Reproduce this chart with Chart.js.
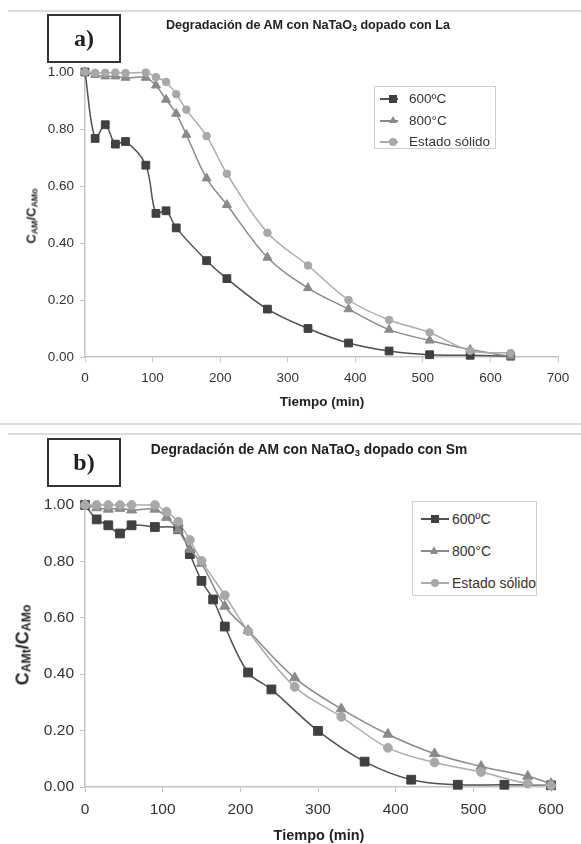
<!DOCTYPE html>
<html>
<head>
<meta charset="utf-8">
<script src="https://cdn.jsdelivr.net/npm/chart.js@4.4.1/dist/chart.umd.min.js"></script>
<style>
  body { margin: 0; width: 581px; height: 844px; position: relative; background: #fff; overflow: hidden;
         font-family: "Liberation Sans", Arial, sans-serif; color: #333; }
  .rule { position: absolute; height: 2px; background: #dcdcdc; }
  .tag { position: absolute; box-sizing: border-box; border: 2px solid #333; font-family: "Liberation Serif", serif;
         font-weight: bold; font-size: 24px; display: flex; align-items: center; justify-content: center; color: #222; }
  .title { position: absolute; transform: translateX(-50%); white-space: nowrap; font-weight: bold; color: #222; }
  .xlab { position: absolute; transform: translate(-50%, -50%); white-space: nowrap; font-weight: bold; color: #222; }
  .ylab { position: absolute; transform: translate(-50%, -50%) rotate(-90deg); white-space: nowrap; font-weight: bold; color: #222; }
  sub { font-size: 0.68em; vertical-align: -0.2em; line-height: 0; }
  .cv { position: absolute; left: 0; width: 581px; }
  .legend { position: absolute; box-sizing: border-box; border: 1px solid #cfcfcf; background: #fff; }
  .item { position: absolute; left: 0; height: 16px; white-space: nowrap; color: #333; }
  .item .ln { position: absolute; top: 7px; height: 1.5px; }
  .item .mk { position: absolute; }
  .item span.t { position: absolute; top: 0; line-height: 16px; }
</style>
</head>
<body>
<div class="rule" style="left:8px;right:0;top:10px"></div>
<div class="rule" style="left:0;right:0;top:423px"></div>
<div class="rule" style="left:8px;right:0;top:433px"></div>

<div class="cv" style="top:0;height:420px"><canvas id="chartA"></canvas></div>
<div class="cv" style="top:420px;height:424px"><canvas id="chartB"></canvas></div>

<div class="tag" style="left:47px;top:14px;width:74px;height:49px">a)</div>
<div class="tag" style="left:47px;top:438px;width:74px;height:49px">b)</div>

<div class="title" style="left:308px;top:18px;font-size:12.6px">Degradación de AM con NaTaO<sub>3</sub> dopado con La</div>
<div class="title" style="left:309px;top:442px;font-size:13.8px">Degradación de AM con NaTaO<sub>3</sub> dopado con Sm</div>

<div class="ylab" style="left:31px;top:216px;font-size:13px">C<sub>AM</sub>/C<sub>AMo</sub></div>
<div class="ylab" style="left:23px;top:645px;font-size:18px">C<sub>AMt</sub>/C<sub>AMo</sub></div>

<div class="xlab" style="left:322px;top:401px;font-size:13.5px">Tiempo (min)</div>
<div class="xlab" style="left:319px;top:835px;font-size:14.5px">Tiempo (min)</div>

<div class="legend" id="legA" style="left:374px;top:86px;width:122px;height:63px"></div>
<div class="legend" id="legB" style="left:412px;top:501px;width:125px;height:95px"></div>

<script>
// series names
const seriesNames = ['600ºC', '800°C', 'Estado sólido'];

// a) NaTaO3 dopado con La
const timeA600 = [0, 15, 30, 45, 60, 90, 105, 120, 135, 180, 210, 270, 330, 390, 450, 510, 570, 630];
const valA600 = [1.00, 0.767, 0.815, 0.747, 0.756, 0.673, 0.504, 0.513, 0.453, 0.338, 0.275, 0.168, 0.100, 0.049, 0.021, 0.008, 0.006, 0.003];
const timeA = [0, 15, 30, 45, 60, 90, 105, 120, 135, 150, 180, 210, 270, 330, 390, 450, 510, 570, 630];
const valA800 = [1.00, 0.990, 0.985, 0.985, 0.980, 0.980, 0.953, 0.903, 0.854, 0.780, 0.627, 0.534, 0.349, 0.242, 0.168, 0.096, 0.058, 0.026, 0.002];
const valASol = [1.00, 0.997, 0.997, 0.998, 0.996, 0.998, 0.982, 0.965, 0.922, 0.868, 0.775, 0.643, 0.436, 0.321, 0.200, 0.130, 0.086, 0.022, 0.014];

// b) NaTaO3 dopado con Sm
const timeB600 = [0, 15, 30, 45, 60, 90, 120, 135, 150, 165, 180, 210, 240, 300, 360, 420, 480, 540, 600];
const valB600 = [1.00, 0.949, 0.928, 0.899, 0.928, 0.922, 0.914, 0.826, 0.731, 0.665, 0.569, 0.406, 0.346, 0.199, 0.090, 0.026, 0.008, 0.008, 0.006];
const timeB = [0, 15, 30, 45, 60, 90, 105, 120, 135, 150, 180, 210, 270, 330, 390, 450, 510, 570, 600];
const valB800 = [1.00, 0.990, 0.985, 0.988, 0.982, 0.985, 0.956, 0.911, 0.843, 0.793, 0.641, 0.555, 0.387, 0.277, 0.187, 0.118, 0.073, 0.038, 0.012];
const valBSol = [1.00, 1.00, 1.00, 1.00, 1.00, 1.00, 0.976, 0.941, 0.876, 0.802, 0.680, 0.553, 0.355, 0.249, 0.139, 0.087, 0.053, 0.012, 0.005];

const yTicks = [0, 0.2, 0.4, 0.6, 0.8, 1.0];

const styles = [
  { line: '#505050', fill: '#404040', shape: 'rect' },
  { line: '#8a8a8a', fill: '#8a8a8a', shape: 'triangle' },
  { line: '#acacac', fill: '#a8a8a8', shape: 'circle' }
];

function pts(xs, ys) { return xs.map((x, i) => ({ x: x, y: ys[i] })); }

function makeChart(id, sets, xMax, box, radii, fontSize) {
  new Chart(document.getElementById(id), {
    type: 'line',
    data: {
      datasets: sets.map((d, i) => ({
        label: seriesNames[i],
        data: d,
        borderColor: styles[i].line,
        backgroundColor: styles[i].fill,
        pointBackgroundColor: styles[i].fill,
        pointBorderColor: styles[i].fill,
        pointStyle: styles[i].shape,
        pointRadius: radii[i],
        pointBorderWidth: 1,
        borderWidth: 1.5,
        tension: 0.35,
        clip: false,
        order: 2 - i
      }))
    },
    options: {
      responsive: true,
      maintainAspectRatio: false,
      animation: false,
      layout: { padding: { left: 0, top: box.top, right: box.right, bottom: 0 } },
      plugins: { legend: { display: false }, tooltip: { enabled: false } },
      scales: {
        x: {
          type: 'linear', min: 0, max: xMax,
          ticks: { stepSize: 100, color: '#333', padding: box.xpad, font: { size: fontSize, family: '"Liberation Sans", Arial' } },
          grid: { drawOnChartArea: false, drawTicks: true, tickLength: 5, color: '#c4c4c4' },
          border: { color: '#c4c4c4', width: 1.5 },
          afterFit: s => { s.height = box.xh; }
        },
        y: {
          min: 0, max: 1,
          afterBuildTicks: s => { s.ticks = yTicks.map(v => ({ value: v })); },
          ticks: { color: '#333', padding: 6, font: { size: fontSize, family: '"Liberation Sans", Arial' },
                   callback: v => v.toFixed(2) },
          grid: { drawOnChartArea: false, drawTicks: true, tickLength: 5, color: '#c4c4c4' },
          border: { color: '#c4c4c4', width: 1.5 },
          afterFit: s => { s.width = 85; }
        }
      }
    }
  });
}

makeChart('chartA', [pts(timeA600, valA600), pts(timeA, valA800), pts(timeA, valASol)], 700,
  { top: 72, right: 23, xh: 63, xpad: 8 }, [5.5, 5.2, 3.8], 13.5);
makeChart('chartB', [pts(timeB600, valB600), pts(timeB, valB800), pts(timeB, valBSol)], 600,
  { top: 85, right: 30, xh: 57, xpad: 8 }, [6.2, 5.8, 4.4], 15.5);

// HTML legends
function legend(id, rowTops, lineX, markX, textX, fs, scale) {
  const el = document.getElementById(id);
  seriesNames.forEach((name, i) => {
    const it = document.createElement('div');
    it.className = 'item';
    it.style.top = rowTops[i] + 'px';
    it.style.fontSize = fs + 'px';
    const ln = document.createElement('div');
    ln.className = 'ln';
    ln.style.left = lineX[0] + 'px';
    ln.style.width = (lineX[1] - lineX[0]) + 'px';
    ln.style.background = styles[i].line;
    it.appendChild(ln);
    const mk = document.createElement('div');
    mk.className = 'mk';
    const s = 8 * scale;
    if (styles[i].shape === 'rect') {
      mk.style.cssText = `left:${markX - s / 2}px;top:${8 - s / 2}px;width:${s}px;height:${s}px;background:${styles[i].fill}`;
    } else if (styles[i].shape === 'circle') {
      mk.style.cssText = `left:${markX - s / 2}px;top:${8 - s / 2}px;width:${s}px;height:${s}px;border-radius:50%;background:${styles[i].fill}`;
    } else {
      const w = s * 1.1;
      mk.style.cssText = `left:${markX - w / 2}px;top:${8 - w * 0.55}px;width:0;height:0;border-left:${w / 2}px solid transparent;border-right:${w / 2}px solid transparent;border-bottom:${w * 0.87}px solid ${styles[i].fill}`;
    }
    it.appendChild(mk);
    const t = document.createElement('span');
    t.className = 't';
    t.style.left = textX + 'px';
    t.textContent = name;
    it.appendChild(t);
    el.appendChild(it);
  });
}
legend('legA', [4, 26, 47], [5, 23], 18, 34, 13.5, 1.0);
legend('legB', [9, 41, 73], [8, 36], 22, 39, 14, 1.1);
</script>
</body>
</html>
